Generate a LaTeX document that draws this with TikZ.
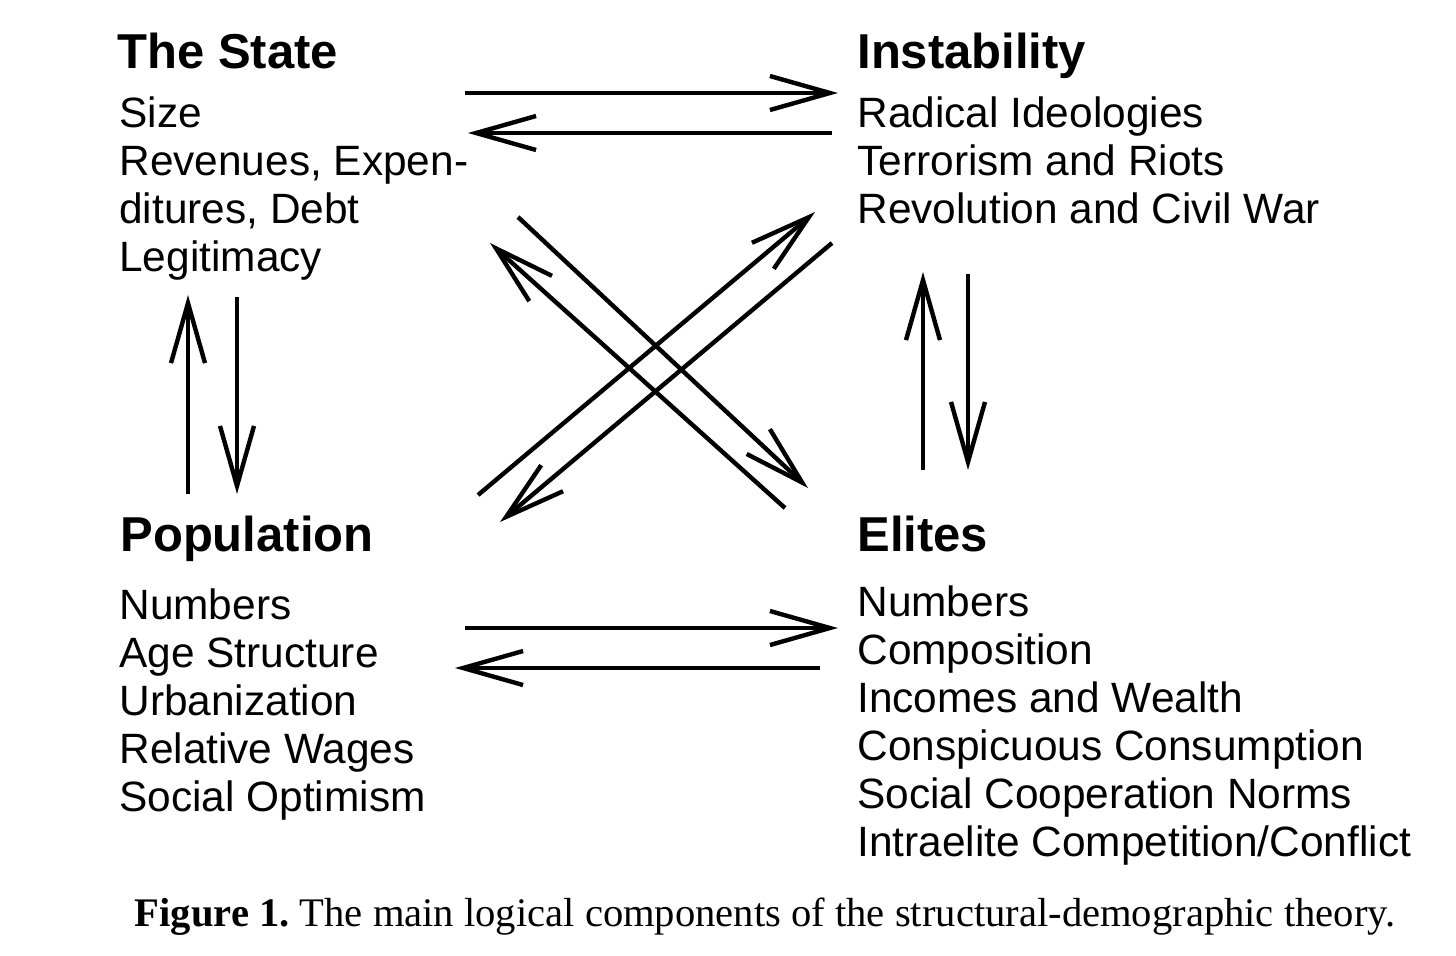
\documentclass[tikz,border=0pt]{standalone}
\usepackage{fontspec}
\setmainfont{Liberation Serif}
\setsansfont{Liberation Sans}
\usetikzlibrary{arrows.meta}
\newcommand{\itemlines}[1]{\vtop{\def\\{\egroup\hbox\bgroup}\hbox\bgroup#1\egroup}}
\begin{document}
\frenchspacing
\begin{tikzpicture}[x=0.5pt,y=-0.5pt,
  title/.style={anchor=base west, inner sep=0pt, font=\sffamily\bfseries\fontsize{24.5}{28}\selectfont},
  itemlist/.style={anchor=base west, inner sep=0pt, font=\sffamily\fontsize{21.2}{24}\selectfont},
  arr/.style={line width=2.2pt, -{Straight Barb[length=30pt,width=17pt]}}]
\useasboundingbox[fill=white] (0,0) rectangle (1456,955);
% titles
\node[title] (stateT) at (117,68) {The State};
\node[title] (instT) at (857,68) {Instability};
\node[title] (popT) at (120,551) {Population};
\node[title] (eliT) at (857,551) {Elites};
% lists
\node[itemlist] (stateL) at (119,127) {\itemlines{Size\\Revenues, Expen-\\ditures, Debt\\Legitimacy}};
\node[itemlist] (instL) at (857,127) {\itemlines{Radical Ideologies\\Terrorism and Riots\\Revolution and Civil War}};
\node[itemlist] (popL) at (119,619) {\itemlines{Numbers\\Age Structure\\Urbanization\\Relative Wages\\Social Optimism}};
\node[itemlist] (eliL) at (857,616) {\itemlines{Numbers\\Composition\\Incomes and Wealth\\Conspicuous Consumption\\Social Cooperation Norms\\Intraelite Competition/Conflict}};
% caption
\node[anchor=base, inner sep=0pt, font=\fontsize{20.3}{24}\selectfont] (cap) at (765,926) {\textbf{Figure 1.} The main logical components of the structural-demographic theory.};
% connector end points
\coordinate (s2iA) at (465,93);  \coordinate (s2iB) at (838,93);
\coordinate (i2sA) at (832,133); \coordinate (i2sB) at (468,133);
\coordinate (p2eA) at (465,628); \coordinate (p2eB) at (838,628);
\coordinate (e2pA) at (820,668); \coordinate (e2pB) at (455,668);
\coordinate (p2sA) at (188,494); \coordinate (p2sB) at (188,295);
\coordinate (s2pA) at (237,297); \coordinate (s2pB) at (237,494);
\coordinate (e2iA) at (923,470); \coordinate (e2iB) at (923,272);
\coordinate (i2eA) at (968,274); \coordinate (i2eB) at (968,470);
\coordinate (s2eA) at (518,217); \coordinate (s2eB) at (808,488);
\coordinate (e2sA) at (785,508); \coordinate (e2sB) at (490,243);
\coordinate (p2iA) at (478,495); \coordinate (p2iB) at (815,212);
\coordinate (i2pA) at (832,243); \coordinate (i2pB) at (500,522);
% connectors
\draw[arr] (s2iA) -- (s2iB);
\draw[arr] (i2sA) -- (i2sB);
\draw[arr] (p2eA) -- (p2eB);
\draw[arr] (e2pA) -- (e2pB);
\draw[arr] (p2sA) -- (p2sB);
\draw[arr] (s2pA) -- (s2pB);
\draw[arr] (e2iA) -- (e2iB);
\draw[arr] (i2eA) -- (i2eB);
\draw[arr] (s2eA) -- (s2eB);
\draw[arr] (e2sA) -- (e2sB);
\draw[arr] (p2iA) -- (p2iB);
\draw[arr] (i2pA) -- (i2pB);
\end{tikzpicture}
\end{document}
